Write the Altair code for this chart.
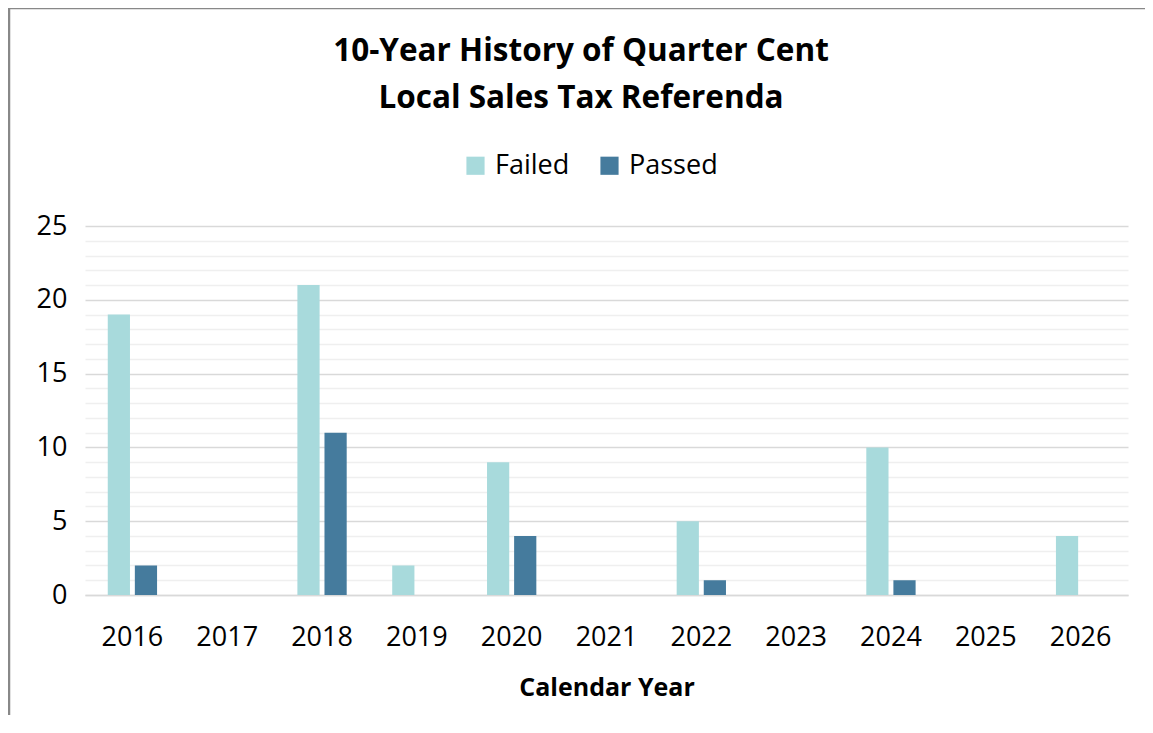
import altair as alt
import pandas as pd

years = ["2016", "2017", "2018", "2019", "2020", "2021", "2022", "2023", "2024", "2025", "2026"]
failed = [19, 0, 21, 2, 9, 0, 5, 0, 10, 0, 4]
passed = [2, 0, 11, 0, 4, 0, 1, 0, 1, 0, 0]
series = ["Failed", "Passed"]
colors = ["#A8DADC", "#457B9D"]
y_ticks = list(range(0, 26))
title_lines = ["10-Year History of Quarter Cent", "Local Sales Tax Referenda"]

rows = []
for y, f, p in zip(years, failed, passed):
    rows.append({"Year": y, "Status": "Failed", "Count": f})
    rows.append({"Year": y, "Status": "Passed", "Count": p})
df = pd.DataFrame(rows)

FONT = "Open Sans"
W, H = 1043, 369
PL, PT, PR, PB = 77, 218, 17, 120

bars = alt.Chart(df).mark_bar().encode(
    x=alt.X("Year:N", sort=years,
            scale=alt.Scale(paddingInner=0.48, paddingOuter=0.24),
            axis=alt.Axis(title="Calendar Year", labelAngle=0, labelFontSize=27,
                          labelFont=FONT, labelColor="#000", labelPadding=29,
                          ticks=False, domainColor="#d9d9d9", domainWidth=1.5,
                          titleFont=FONT, titleFontSize=25, titleFontWeight="bold",
                          titleColor="#000", titlePadding=25)),
    xOffset=alt.XOffset("Status:N", sort=series, scale=alt.Scale(paddingInner=0.18)),
    y=alt.Y("Count:Q", scale=alt.Scale(domain=[0, 25], nice=False),
            axis=alt.Axis(title=None, values=y_ticks, ticks=False, domain=False,
                          labelExpr="datum.value % 5 === 0 ? datum.label : ''",
                          labelFontSize=27, labelFont=FONT, labelColor="#000",
                          labelPadding=18,
                          gridColor=alt.condition("datum.value % 5 === 0",
                                                  alt.value("#d9d9d9"), alt.value("#efefef")),
                          gridWidth=1.5)),
    color=alt.Color("Status:N", sort=series,
                    scale=alt.Scale(domain=series, range=colors),
                    legend=alt.Legend(title=None, orient="none", direction="horizontal",
                                      legendX=377, legendY=-74, symbolType="square",
                                      symbolSize=330, symbolStrokeWidth=0,
                                      labelFont=FONT, labelFontSize=27, labelColor="#000",
                                      columnPadding=26, labelOffset=6, padding=0)),
)

frame = alt.Chart(pd.DataFrame({"a": [0]})).mark_rect(
    fill=None, stroke="#888888", strokeWidth=2.5
).encode(
    x=alt.value(-PL + 1), x2=alt.value(W + PR + 50),
    y=alt.value(-PT + 0), y2=alt.value(H + PB + 50),
)

title = alt.Chart(pd.DataFrame({"a": [0]})).mark_text(
    font=FONT, fontSize=31.5, fontWeight="bold", color="#000",
    lineHeight=47, align="center", baseline="middle"
).encode(
    x=alt.value(496), y=alt.value(-174),
    text=alt.value(title_lines),
)

chart = alt.layer(bars, frame, title).properties(
    width=W, height=H,
    padding={"left": PL, "top": PT, "right": PR, "bottom": PB},
    autosize=alt.AutoSizeParams(type="none"),
).configure_view(stroke=None)

chart.save("out.html", embed_options={"renderer": "svg", "actions": False})
